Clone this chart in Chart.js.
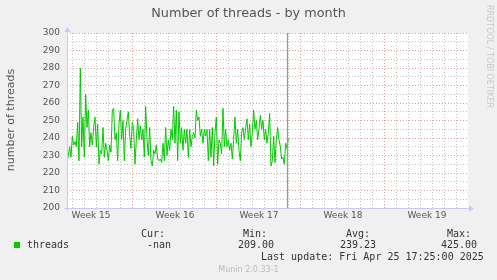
<!DOCTYPE html>
<html>
<head>
<meta charset="utf-8">
<script src="https://cdn.jsdelivr.net/npm/chart.js@4/dist/chart.umd.min.js"></script>
<style>
  html, body { margin: 0; padding: 0; background: #f0f0f0; }
  #wrap { width: 497px; height: 280px; }
</style>
</head>
<body>
<div id="wrap"><canvas id="chart" width="497" height="280"></canvas></div>
<script>
// --- DATA ---
const chartTitle = "Number of threads - by month";
const yAxisTitle = "number of threads";
const seriesName = "threads";
const samplesPerDay = 9;          // one sample every ~2.7h
const nowDay = 18.33;             // "now" marker (days from left edge)
const xMaxDay = 33.42;
const weekLabels = ["Week 15", "Week 16", "Week 17", "Week 18", "Week 19"];
const weekCenters = [2, 9, 16, 23, 30];
const weekBounds = [5.5, 12.5, 19.5, 26.5];
const yMin = 200, yMax = 300;
const statHeads = ["Cur:", "Min:", "Avg:", "Max:"];
const statValues = ["-nan", "209.00", "239.23", "425.00"];
const lastUpdate = "Last update: Fri Apr 25 17:25:00 2025";
const footer = "Munin 2.0.33-1";
const sideText = "RRDTOOL / TOBI OETIKER";

const threads = [
  226.6, 230, 235, 229, 241, 236, 238, 235, 249, 227, 280, 235, 252, 229, 265, 246,
  256, 235, 243, 236, 246, 252, 235, 248, 225, 233, 231, 246, 229, 237, 233, 227,
  236, 232, 256, 257, 239, 243, 227, 248, 256, 239, 250, 227, 245, 250, 255, 241,
  234, 249, 245, 225, 239, 251, 239, 247, 239, 245, 229, 258, 239, 230, 246, 227,
  224, 233, 231, 236, 228, 227, 228, 226, 237, 227, 246, 230, 239, 233, 245, 239,
  258, 237, 256, 227, 255, 237, 246, 233, 245, 237, 245, 229, 245, 235, 241, 243,
  240, 256, 250, 252, 241, 245, 237, 245, 241, 245, 227, 245, 229, 246, 224, 243,
  252, 225, 239, 237, 231, 257, 235, 245, 235, 239, 233, 237, 228, 239, 252, 237,
  245, 233, 227, 243, 246, 239, 246, 251, 239, 248, 235, 243, 256, 245, 250, 239,
  245, 253, 245, 250, 239, 245, 237, 243, 254, 224, 227, 241, 226, 239, 246, 239,
  235, 228, 229, 225, 237, 234, 240
];

// --- COLOURS ---
const BG = '#f0f0f0';
const GRID_MINOR = 'rgba(175,175,175,0.75)';
const GRID_MAJOR = 'rgba(225,120,120,0.75)';
const AXIS = '#c8c8f4';
const TEXT = '#555555';
const LINE = '#00cc00';

const points = threads.map((v, i) => ({ x: i / samplesPerDay, y: v }));

const dayTicks = [];
for (let d = 0.5; d < xMaxDay; d += 1) dayTicks.push(d);

function isWeekCenter(v) { return weekCenters.some(c => Math.abs(c - v) < 1e-6); }
function isWeekBound(v) { return weekBounds.some(c => Math.abs(c - v) < 1e-6); }

// background, plot box, axes, texts
const munin = {
  id: 'munin',
  beforeDraw(chart) {
    const { ctx, chartArea: a } = chart;
    ctx.save();
    ctx.fillStyle = BG;
    ctx.fillRect(0, 0, chart.width, chart.height);
    ctx.fillStyle = '#ffffff';
    ctx.fillRect(a.left, a.top, a.right - a.left, a.bottom - a.top);
    ctx.restore();
  },
  afterDatasetsDraw(chart) {
    const { ctx, chartArea: a, scales } = chart;
    ctx.save();
    // now line
    const nx = Math.round(scales.x.getPixelForValue(nowDay)) + 0.5;
    ctx.strokeStyle = '#999999';
    ctx.lineWidth = 1.2;
    ctx.beginPath(); ctx.moveTo(nx, a.top); ctx.lineTo(nx, a.bottom); ctx.stroke();

    // axes + arrows
    ctx.strokeStyle = AXIS; ctx.fillStyle = AXIS; ctx.lineWidth = 1;
    const bx = a.left + 0.5, by = a.bottom + 0.5;
    ctx.beginPath(); ctx.moveTo(a.left - 3, by); ctx.lineTo(a.right + 2, by); ctx.stroke();
    ctx.beginPath(); ctx.moveTo(bx, a.bottom + 3); ctx.lineTo(bx, a.top - 2); ctx.stroke();
    ctx.beginPath(); ctx.moveTo(a.right + 6, by); ctx.lineTo(a.right + 1, by - 3); ctx.lineTo(a.right + 1, by + 3); ctx.closePath(); ctx.fill();
    ctx.beginPath(); ctx.moveTo(bx, a.top - 6); ctx.lineTo(bx - 3, a.top - 1); ctx.lineTo(bx + 3, a.top - 1); ctx.closePath(); ctx.fill();
    ctx.restore();
  },
  afterDraw(chart) {
    const { ctx } = chart;
    ctx.save();
    ctx.textBaseline = 'middle';
    // title
    ctx.fillStyle = TEXT;
    ctx.font = '12.8px "DejaVu Sans"';
    ctx.textAlign = 'center';
    ctx.fillText(chartTitle, 248.5, 13.5);

    // y axis title
    ctx.save();
    ctx.translate(11, 120);
    ctx.rotate(-Math.PI / 2);
    ctx.font = '11px "DejaVu Sans"';
    ctx.fillText(yAxisTitle, 0, 0);
    ctx.restore();

    // side text
    ctx.save();
    ctx.translate(489, 5);
    ctx.rotate(Math.PI / 2);
    ctx.textAlign = 'left';
    ctx.fillStyle = '#c8c8c8';
    ctx.font = '8px "DejaVu Sans"';
    ctx.fillText(sideText, 0, 0);
    ctx.restore();

    // legend
    ctx.font = '10px "DejaVu Sans Mono"';
    ctx.fillStyle = '#333333';
    ctx.textAlign = 'left';
    const headX = [141, 243, 346, 447];
    const valX = [147, 238, 340, 441];
    statHeads.forEach((t, i) => ctx.fillText(t, headX[i], 234.5));
    statValues.forEach((t, i) => ctx.fillText(t, valX[i], 245.5));
    ctx.fillText(seriesName, 27, 245.5);
    ctx.fillText(lastUpdate, 261, 257.5);
    ctx.fillStyle = LINE;
    ctx.fillRect(14, 242, 6, 6);

    // footer
    ctx.fillStyle = '#bbbbbb';
    ctx.font = '8px "DejaVu Sans"';
    ctx.textAlign = 'center';
    ctx.fillText(footer, 248.5, 269.5);
    ctx.restore();
  }
};

new Chart(document.getElementById('chart'), {
  type: 'line',
  data: {
    datasets: [{
      label: seriesName,
      data: points,
      borderColor: LINE,
      borderWidth: 1,
      pointRadius: 0,
      tension: 0,
      fill: false
    }]
  },
  options: {
    responsive: false,
    animation: false,
    events: [],
    layout: { padding: { top: 33, right: 29, bottom: 0, left: 0 } },
    plugins: { legend: { display: false }, tooltip: { enabled: false }, title: { display: false } },
    scales: {
      x: {
        type: 'linear',
        min: 0,
        max: xMaxDay,
        afterFit(s) { s.height = 72; },
        afterBuildTicks(s) {
          s.ticks = dayTicks.concat(weekCenters).sort((a, b) => a - b).map(v => ({ value: v }));
        },
        ticks: {
          autoSkip: false,
          maxRotation: 0,
          padding: 2,
          color: TEXT,
          font: { family: 'DejaVu Sans', size: 9 },
          callback(v) {
            const i = weekCenters.findIndex(c => Math.abs(c - v) < 1e-6);
            return i >= 0 ? weekLabels[i] : '';
          }
        },
        grid: {
          drawTicks: false,
          lineWidth: 1,
          color(c) {
            const v = c.tick ? c.tick.value : 0;
            if (isWeekCenter(v)) return 'rgba(0,0,0,0)';
            return isWeekBound(v) ? GRID_MAJOR : GRID_MINOR;
          }
        },
        border: { display: false, dash: [1, 2] }
      },
      y: {
        min: yMin,
        max: yMax,
        afterFit(s) { s.width = 67; },
        ticks: {
          stepSize: 5,
          autoSkip: false,
          padding: 7,
          color: TEXT,
          font: { family: 'DejaVu Sans', size: 9 },
          callback(v) { return v % 10 === 0 ? String(v) : ''; }
        },
        grid: {
          drawTicks: false,
          lineWidth: 1,
          color(c) {
            const v = c.tick ? c.tick.value : 0;
            return v % 10 === 0 ? GRID_MAJOR : GRID_MINOR;
          }
        },
        border: { display: false, dash: [1, 2] }
      }
    }
  },
  plugins: [munin]
});
</script>
</body>
</html>
